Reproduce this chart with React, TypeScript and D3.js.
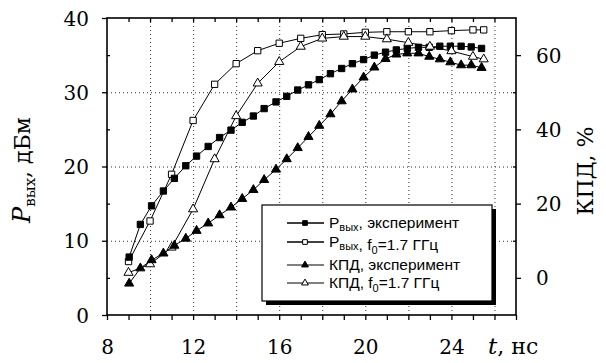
import * as d3 from "d3";
import React, { useEffect } from "react";

// experiment time grid, ns
const tExp = [9.03, 9.55, 10.07, 10.62, 11.13, 11.66, 12.16, 12.7, 13.23, 13.76, 14.28, 14.8, 15.3, 15.85, 16.35, 16.86, 17.36, 17.86, 18.38, 18.9, 19.4, 19.92, 20.42, 20.94, 21.44, 21.95, 22.47, 22.97, 23.46, 23.95, 24.45, 24.92, 25.4];
const pExp = [7.8, 12.2, 14.7, 16.7, 18.4, 20.1, 21.4, 22.7, 23.9, 24.9, 25.95, 26.8, 27.8, 28.7, 29.45, 30.3, 31.0, 31.7, 32.5, 33.2, 33.85, 34.4, 35.0, 35.4, 35.7, 35.9, 36.05, 36.05, 36.2, 36.2, 36.2, 36.1, 35.9];
const effExp = [-1.5, 2.6, 4.8, 6.6, 8.7, 10.6, 12.7, 14.7, 16.9, 19.0, 21.3, 23.7, 26.4, 29.2, 32.0, 35.0, 38.0, 41.0, 44.1, 47.6, 50.8, 54.0, 56.7, 59.0, 60.2, 60.5, 60.5, 59.6, 58.9, 58.1, 57.3, 57.3, 56.6];

// simulation, f0 = 1.7 GHz
const tSim = [9, 10, 11, 12, 13, 14, 15, 16, 17, 18, 19, 20, 21, 22, 23, 24, 25, 25.5];
const pSim = [7.2, 12.66, 18.95, 26.2, 31.07, 33.85, 35.6, 36.6, 37.26, 37.75, 37.85, 38.07, 38.15, 38.15, 38.15, 38.3, 38.4, 38.4];
const effSim = [1.4, 3.7, 8.2, 18.5, 32.0, 43.6, 52.4, 58.2, 62.3, 64.5, 65.0, 65.0, 64.3, 63.35, 62.3, 61.1, 59.6, 58.9];

const xTicks = [8, 12, 16, 20, 24];
const yLeftTicks = [0, 10, 20, 30, 40];
const yRightTicks = [0, 20, 40, 60];

const ChartComponent: React.FC = () => {
  useEffect(() => {
    const width = 606;
    const height = 363;
    const left = 107, right = 516, top = 18, bottom = 315;
    const serif = "'DejaVu Serif', serif";
    const sans = "'Liberation Sans', Arial, sans-serif";

    const x = d3.scaleLinear().domain([8, 27]).range([left, right]);
    const yL = d3.scaleLinear().domain([0, 40]).range([bottom, top]);
    const yR = d3.scaleLinear().domain([-10, 70]).range([bottom, top]);

    const svg = d3.select("#myChart")
      .append("svg")
      .attr("width", width)
      .attr("height", height)
      .attr("viewBox", `0 0 ${width} ${height}`)
      .style("display", "block")
      .style("background", "#fff");

    // dotted grid
    const grid = svg.append("g")
      .attr("stroke", "#333")
      .attr("stroke-width", 1)
      .attr("stroke-dasharray", "1,3");
    grid.selectAll("line.h")
      .data([10, 20, 30])
      .join("line")
      .attr("x1", left).attr("x2", right)
      .attr("y1", d => yL(d) + 0.5).attr("y2", d => yL(d) + 0.5);
    grid.selectAll("line.v")
      .data(d3.range(10, 27, 2))
      .join("line")
      .attr("class", "v")
      .attr("y1", top).attr("y2", bottom)
      .attr("x1", d => x(d) + 0.5).attr("x2", d => x(d) + 0.5);

    // axes
    const fmtAxis = (g: any) => {
      g.select(".domain").remove();
      g.attr("font-family", serif).attr("font-size", 20);
      g.selectAll("text").style("font-family", serif).style("font-size", "20px").attr("fill", "#000");
      g.selectAll("line").attr("stroke-width", 1.3);
    };

    svg.append("g")
      .attr("transform", `translate(0,${bottom})`)
      .call(d3.axisBottom(x).tickValues(d3.range(8, 28)).tickSize(5).tickFormat((d: any) => xTicks.includes(d) ? String(d) : ""))
      .call(fmtAxis)
      .call((g: any) => g.selectAll("text").attr("dy", "0").attr("y", 39));

    svg.append("g")
      .attr("transform", `translate(${left},0)`)
      .call(d3.axisLeft(yL).tickValues(yLeftTicks).tickSize(5).tickPadding(13))
      .call(fmtAxis)
      .call((g: any) => g.selectAll("text").attr("dy", "0.35em"));

    svg.append("g")
      .attr("transform", `translate(${left},0)`)
      .call(d3.axisRight(yL).tickValues([5, 15, 25, 35]).tickSize(3).tickFormat(() => ""))
      .call(fmtAxis);

    svg.append("g")
      .attr("transform", `translate(${right},0)`)
      .call(d3.axisRight(yR).tickValues(yRightTicks).tickSize(5).tickPadding(15))
      .call(fmtAxis)
      .call((g: any) => g.selectAll("text").attr("dy", "0.35em"));

    svg.append("g")
      .attr("transform", `translate(${right},0)`)
      .call(d3.axisLeft(yL).tickValues([10, 20, 30]).tickSize(3).tickFormat(() => ""))
      .call(fmtAxis);

    svg.append("g")
      .attr("transform", `translate(0,${top})`)
      .call(d3.axisBottom(x).tickValues(d3.range(9, 27)).tickSize(4).tickFormat(() => ""))
      .call(fmtAxis);

    // frame
    svg.append("rect")
      .attr("x", left).attr("y", top)
      .attr("width", right - left).attr("height", bottom - top)
      .attr("fill", "none").attr("stroke", "#000").attr("stroke-width", 1.6);

    // series
    const square = d3.symbol(d3.symbolSquare, 40);
    const tri = d3.symbol(d3.symbolTriangle, 36);
    const series = [
      { t: tSim, v: pSim, y: yL, sym: square, fill: "#fff" },
      { t: tExp, v: pExp, y: yL, sym: square, fill: "#000" },
      { t: tSim, v: effSim, y: yR, sym: tri, fill: "#fff" },
      { t: tExp, v: effExp, y: yR, sym: tri, fill: "#000" },
    ];

    series.forEach(s => {
      const pts = s.t.map((t, i) => [x(t), s.y(s.v[i])] as [number, number]);
      svg.append("path")
        .attr("d", d3.line()(pts))
        .attr("fill", "none")
        .attr("stroke", "#000")
        .attr("stroke-width", 1);
      svg.append("g")
        .selectAll("path")
        .data(pts)
        .join("path")
        .attr("transform", d => `translate(${d[0]},${d[1]})`)
        .attr("d", s.sym()!)
        .attr("fill", s.fill)
        .attr("stroke", "#000")
        .attr("stroke-width", 1);
    });

    // legend
    const lg = svg.append("g");
    lg.append("rect").attr("x", 266).attr("y", 209).attr("width", 230).attr("height", 96).attr("fill", "#000");
    lg.append("rect").attr("x", 262).attr("y", 205).attr("width", 230).attr("height", 96)
      .attr("fill", "#fff").attr("stroke", "#000").attr("stroke-width", 1.2);

    const legendRows = [
      { y: 223, sym: d3.symbol(d3.symbolSquare, 22), fill: "#000", w: 1.6, sub: "вых", rest: ", эксперимент", f0: false },
      { y: 242, sym: d3.symbol(d3.symbolSquare, 22), fill: "#fff", w: 1.6, sub: "вых", rest: "", f0: true },
      { y: 265, sym: d3.symbol(d3.symbolTriangle, 20), fill: "#000", w: 1, sub: "", rest: "КПД, эксперимент", f0: false },
      { y: 283, sym: d3.symbol(d3.symbolTriangle, 20), fill: "#fff", w: 1, sub: "", rest: "КПД", f0: true },
    ];
    legendRows.forEach(r => {
      lg.append("line").attr("x1", 287).attr("x2", 324).attr("y1", r.y).attr("y2", r.y)
        .attr("stroke", "#000").attr("stroke-width", r.w);
      lg.append("path").attr("transform", `translate(305,${r.y})`).attr("d", r.sym()!)
        .attr("fill", r.fill).attr("stroke", "#000").attr("stroke-width", 1);
      const tx = lg.append("text").attr("x", 329).attr("y", r.y + 5)
        .style("font-family", sans).style("font-size", "15.5px").attr("fill", "#000");
      if (r.sub) {
        tx.append("tspan").text("P");
        tx.append("tspan").style("font-size", "11px").attr("dy", 3).text(r.sub);
        tx.append("tspan").attr("dy", -3).text(r.rest);
      } else {
        tx.append("tspan").text(r.rest);
      }
      if (r.f0) {
        tx.append("tspan").text(", f");
        tx.append("tspan").style("font-size", "11px").attr("dy", 4).text("0");
        tx.append("tspan").attr("dy", -4).text("=1.7 ГГц");
      }
    });

    // axis titles
    const lt = svg.append("text")
      .attr("transform", "translate(30,170) rotate(-90)")
      .attr("text-anchor", "middle")
      .style("font-family", serif).style("font-size", "22px").attr("fill", "#000");
    lt.append("tspan").style("font-style", "italic").style("font-size", "24px").text("P");
    lt.append("tspan").style("font-size", "15px").attr("dy", 5).text("вых");
    lt.append("tspan").attr("dy", -5).text(", дБм");

    svg.append("text")
      .attr("transform", "translate(593,171) rotate(-90)")
      .attr("text-anchor", "middle")
      .style("font-family", serif).style("font-size", "22px").attr("fill", "#000")
      .text("КПД, %");

    const bt = svg.append("text")
      .attr("x", 488).attr("y", 354)
      .style("font-family", serif).style("font-size", "22px").attr("fill", "#000");
    bt.append("tspan").style("font-style", "italic").style("font-size", "23px").text("t");
    bt.append("tspan").text(", нс");

    return () => {
      d3.select("#myChart").selectAll("*").remove();
    };
  }, []);

  return (
    <div id="myChart" style={{ position: "absolute", left: 0, top: 0 }} />
  );
};

export default ChartComponent;
